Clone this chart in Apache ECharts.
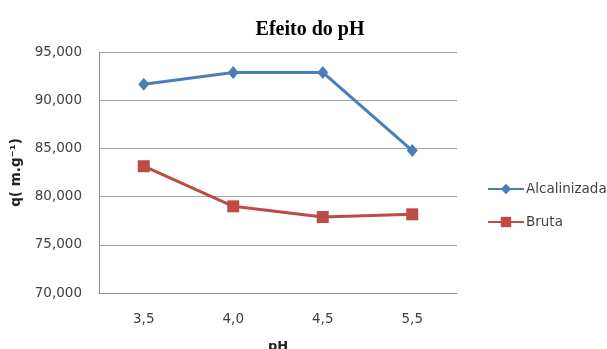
<!DOCTYPE html>
<html>
<head>
<meta charset="utf-8">
<script src="https://cdn.jsdelivr.net/npm/echarts@6/dist/echarts.min.js"></script>
<style>
  html, body { margin: 0; padding: 0; background: #fff; }
  #chart { width: 607px; height: 349px; }
</style>
</head>
<body>
<div id="chart"></div>
<script>
// dados
var categorias = ["3,5", "4,0", "4,5", "5,5"];
var alcalinizada = [91650, 92870, 92880, 84770];
var bruta = [83150, 78990, 77880, 78160];

var chart = echarts.init(document.getElementById("chart"));

function fmt(v) {
  // separador de milhar como no original: 95,000
  return String(v).replace(/\B(?=(\d{3})+(?!\d))/g, ",");
}

var option = {
  animation: false,
  title: {
    text: "Efeito do pH",
    left: 305,
    textAlign: "center",
    top: 15,
    textStyle: {
      fontFamily: "Liberation Serif",
      fontWeight: "bold",
      fontSize: 20,
      color: "#000",
    },
  },
  legend: {
    orient: "vertical",
    left: 482,
    top: 177,
    itemWidth: 36,
    itemHeight: 13,
    itemGap: 19,
    textStyle: {
      fontFamily: "DejaVu Sans",
      fontSize: 13.5,
      color: "#404040",
      padding: [0, 0, 0, -3],
    },
    data: ["Alcalinizada", "Bruta"],
  },
  grid: {
    left: 99,
    right: 150,
    top: 52,
    bottom: 56,
    outerBoundsMode: "none",
  },
  xAxis: {
    type: "category",
    data: categorias,
    name: "pH",
    nameLocation: "middle",
    nameGap: 47,
    nameTextStyle: {
      fontFamily: "DejaVu Sans",
      fontWeight: "bold",
      fontSize: 13,
      color: "#222",
    },
    axisLine: { lineStyle: { color: "#8c8c8c", width: 1 } },
    axisTick: { show: false },
    axisLabel: {
      margin: 19,
      fontFamily: "DejaVu Sans",
      fontSize: 13.5,
      color: "#404040",
    },
  },
  yAxis: {
    type: "value",
    min: 70000,
    max: 95000,
    interval: 5000,
    name: "q( m.g⁻¹)",
    nameLocation: "middle",
    nameRotate: 90,
    nameGap: 74,
    nameTextStyle: {
      fontFamily: "DejaVu Sans",
      fontWeight: "bold",
      fontSize: 13.5,
      color: "#222",
    },
    axisLine: { show: true, lineStyle: { color: "#8c8c8c", width: 1 } },
    axisTick: { show: false },
    axisLabel: {
      margin: 17,
      fontFamily: "DejaVu Sans",
      fontSize: 13.5,
      color: "#404040",
      formatter: fmt,
    },
    splitLine: { lineStyle: { color: "#a6a6a6", width: 1 } },
  },
  series: [
    {
      name: "Alcalinizada",
      type: "line",
      data: alcalinizada,
      symbol: "diamond",
      symbolSize: [11, 13],
      showAllSymbol: true,
      lineStyle: { color: "#4a7ebb", width: 3 },
      itemStyle: { color: "#4a7ebb" },
    },
    {
      name: "Bruta",
      type: "line",
      data: bruta,
      symbol: "rect",
      symbolSize: 12,
      showAllSymbol: true,
      lineStyle: { color: "#be4b48", width: 3 },
      itemStyle: { color: "#be4b48" },
    },
  ],
};

chart.setOption(option);
</script>
</body>
</html>
